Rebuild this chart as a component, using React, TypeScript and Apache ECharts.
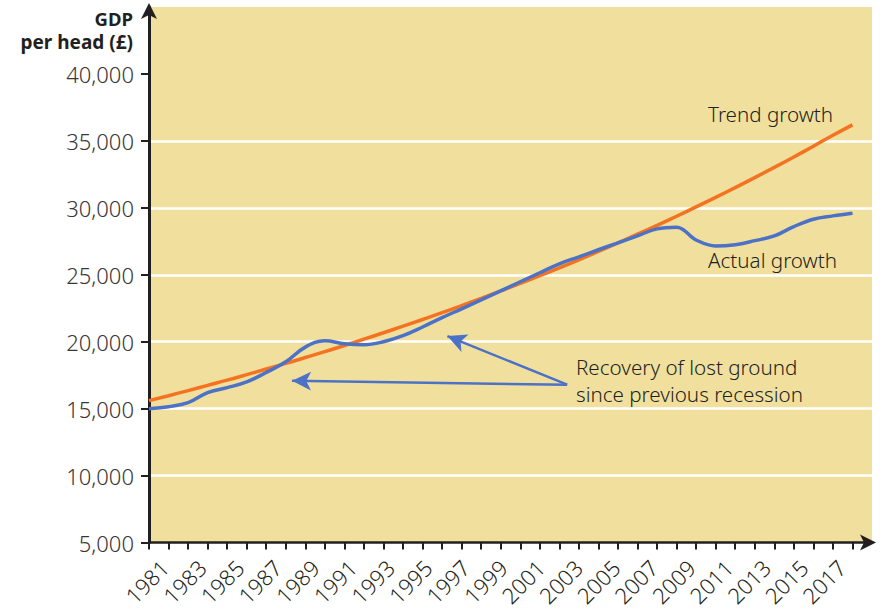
import React, { useEffect, useRef } from "react";
import * as echarts from "echarts";

const years = [1981,1982,1983,1984,1985,1986,1987,1988,1989,1990,1991,1992,1993,1994,1995,1996,1997,1998,1999,2000,2001,2002,2003,2004,2005,2006,2007,2008,2009,2010,2011,2012,2013,2014,2015,2016,2017];
const trendGdp = [15600,15970,16350,16740,17130,17540,17960,18380,18820,19260,19720,20190,20670,21160,21660,22170,22700,23240,23790,24350,24930,25520,26120,26740,27380,28030,28690,29370,30070,30780,31510,32260,33020,33800,34600,35420,36200];
const actualGdp = [15000,15150,15450,16200,16570,17000,17700,18500,19600,20070,19850,19780,20000,20450,21100,21800,22460,23130,23800,24480,25150,25820,26340,26870,27390,27910,28430,28550,27600,27150,27250,27550,27900,28600,29150,29400,29600];
const labelYears = [1981,1983,1985,1987,1989,1991,1993,1995,1997,1999,2001,2003,2005,2007,2009,2011,2013,2015,2017];
const yTicks = [5000,10000,15000,20000,25000,30000,35000,40000];

// annotation arrows: [startYear, startValue, endYear, endValue]
const arrows = [
  [2002.4, 16790, 1988.32, 17080],
  [2002.4, 16790, 1996.27, 20420],
];

const INK = "#231F20";
const BLUE = "#4B72C6";
const ORANGE = "#F47321";
const FONT = "Noto Sans";

export default function App() {
  const ref = useRef<HTMLDivElement>(null);
  useEffect(() => {
    const chart = echarts.init(ref.current!, null, { renderer: "svg" });
    const fmt = (v: number) => v.toLocaleString("en-GB");
    chart.setOption({
      animation: false,
      backgroundColor: "#ffffff",
      grid: {
        left: 149, top: 7, right: 15, bottom: 66,
        show: true, backgroundColor: "#F1DF9E", borderWidth: 0,
      },
      xAxis: [
        {
          type: "value", min: 1981, max: 2018, interval: 1,
          axisLine: {
            show: true, onZero: false,
            lineStyle: { color: INK, width: 2.5 },
            symbol: ["none", "arrow"], symbolSize: [12, 16], symbolOffset: [0, 4],
          },
          axisTick: { show: true, customValues: years, length: 7, lineStyle: { color: INK, width: 2 } },
          axisLabel: { show: false },
          splitLine: { show: false },
        },
        {
          type: "value", min: 1980.176, max: 2018.622, position: "bottom",
          axisLine: { show: false },
          axisTick: { show: false },
          splitLine: { show: false },
          axisLabel: {
            show: true, customValues: labelYears, rotate: 45, margin: 21,
            fontFamily: FONT, fontSize: 22, color: INK, fontWeight: 300,
            formatter: (v: number) => String(v),
          },
        },
      ],
      yAxis: {
        type: "value", min: 5000, max: 45000, interval: 5000,
        axisLine: {
          show: true, onZero: false,
          lineStyle: { color: INK, width: 3 },
          symbol: ["none", "arrow"], symbolSize: [12, 16], symbolOffset: [0, 4],
        },
        axisTick: { show: true, customValues: yTicks, length: 8, lineStyle: { color: INK, width: 2 } },
        axisLabel: {
          customValues: yTicks, margin: 15,
          fontFamily: FONT, fontSize: 22, color: "#3a3536", fontWeight: 300,
          formatter: (v: number) => fmt(v),
        },
        splitLine: { show: true, showMinLine: false, showMaxLine: false, lineStyle: { color: "#ffffff", width: 2.5 } },
      },
      series: [
        {
          type: "line", name: "Trend growth",
          data: years.map((y, i) => [y, trendGdp[i]]),
          smooth: true, showSymbol: false,
          lineStyle: { color: ORANGE, width: 3.5 },
          z: 3,
        },
        {
          type: "line", name: "Actual growth",
          data: years.map((y, i) => [y, actualGdp[i]]),
          smooth: 0.4, showSymbol: false,
          lineStyle: { color: BLUE, width: 3.5 },
          z: 4,
          markLine: {
            silent: true, animation: false,
            symbol: ["none", "arrow"], symbolSize: [14, 19],
            label: { show: false },
            lineStyle: { color: BLUE, width: 2.5, type: "solid" },
            emphasis: { disabled: true },
            data: arrows.map((a) => [
              { coord: [a[0], a[1]] },
              { coord: [a[2], a[3]] },
            ]),
          },
        },
      ],
      graphic: [
        { type: "text", x: 133, y: 18, style: { text: "GDP", textAlign: "right", textVerticalAlign: "middle", font: `bold 18.5px "${FONT}"`, fill: INK } },
        { type: "text", x: 133, y: 42, style: { text: "per head (£)", textAlign: "right", textVerticalAlign: "middle", font: `bold 19px "${FONT}"`, fill: INK } },
        { type: "text", x: 708, y: 114, style: { text: "Trend growth", textVerticalAlign: "middle", font: `300 20.6px "${FONT}"`, fill: INK } },
        { type: "text", x: 708, y: 260, style: { text: "Actual growth", textVerticalAlign: "middle", font: `300 20.6px "${FONT}"`, fill: INK } },
        { type: "text", x: 576, y: 367, style: { text: "Recovery of lost ground", textVerticalAlign: "middle", font: `300 20.6px "${FONT}"`, fill: INK } },
        { type: "text", x: 576, y: 394, style: { text: "since previous recession", textVerticalAlign: "middle", font: `300 20.6px "${FONT}"`, fill: INK } },
      ],
    });
    return () => chart.dispose();
  }, []);
  return <div ref={ref} style={{ position: "fixed", left: 0, top: 0, width: 887, height: 609 }} />;
}
